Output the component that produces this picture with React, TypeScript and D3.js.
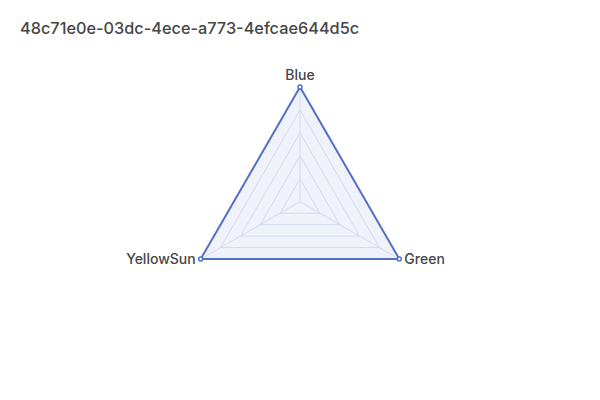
import React from 'react';
import * as d3 from 'd3';

const title = '48c71e0e-03dc-4ece-a773-4efcae644d5c';
const indicators = ['Blue', 'Green', 'YellowSun'];
const values = [100, 100, 100];
const maxValue = 100;
const splitLevels = [20, 40, 60, 80, 100];

export default function App() {
  const width = 600;
  const height = 400;
  const cx = 300;
  const cy = 201.7;
  const radius = 114.7;

  const r = d3.scaleLinear().domain([0, maxValue]).range([0, radius]);
  const angle = d3
    .scalePoint<string>()
    .domain(indicators)
    .range([0, (2 * Math.PI * (indicators.length - 1)) / indicators.length]);

  const pt = (name: string, v: number): [number, number] => {
    const a = (angle(name) as number) - Math.PI / 2;
    return [cx + r(v) * Math.cos(a), cy + r(v) * Math.sin(a)];
  };

  const line = d3.line().curve(d3.curveLinearClosed);

  const dataPts = indicators.map((n, i) => pt(n, values[i]));

  return (
    <svg width={width} height={height} style={{ position: 'absolute', left: 0, top: 0 }}>
      <rect width={width} height={height} fill="#fff" />
      <text x={20} y={34} fontFamily="Inter" fontSize={16.3} fontWeight={500} fill="#464646">
        {title}
      </text>
      <g>
        {splitLevels.map((lv) => (
          <path
            key={lv}
            d={line(indicators.map((n) => pt(n, lv))) || ''}
            fill="none"
            stroke="#e0e6f1"
            strokeWidth={1}
          />
        ))}
        {indicators.map((n) => {
          const [x, y] = pt(n, maxValue);
          return <line key={n} x1={cx} y1={cy} x2={x} y2={y} stroke="#e0e6f1" strokeWidth={1} />;
        })}
      </g>
      <path
        d={line(dataPts) || ''}
        fill="#5470c6"
        fillOpacity={0.09}
        stroke="#5470c6"
        strokeWidth={2}
        strokeLinejoin="round"
      />
      {dataPts.map(([x, y], i) => (
        <circle key={i} cx={x} cy={y} r={2} fill="#fff" stroke="#5470c6" strokeWidth={1.5} />
      ))}
      {indicators.map((n) => {
        const a = (angle(n) as number) - Math.PI / 2;
        const [x, y] = pt(n, maxValue);
        const cos = Math.cos(a);
        const anchor = Math.abs(cos) < 0.1 ? 'middle' : cos > 0 ? 'start' : 'end';
        const dx = Math.abs(cos) < 0.1 ? 0 : cos > 0 ? 5 : -5;
        const dy = Math.abs(cos) < 0.1 ? -7 : 5;
        return (
          <text
            key={n}
            x={x + dx}
            y={y + dy}
            textAnchor={anchor}
            fontFamily="Inter"
            fontSize={14}
            fontWeight={500}
            fill="#464646"
          >
            {n}
          </text>
        );
      })}
    </svg>
  );
}
